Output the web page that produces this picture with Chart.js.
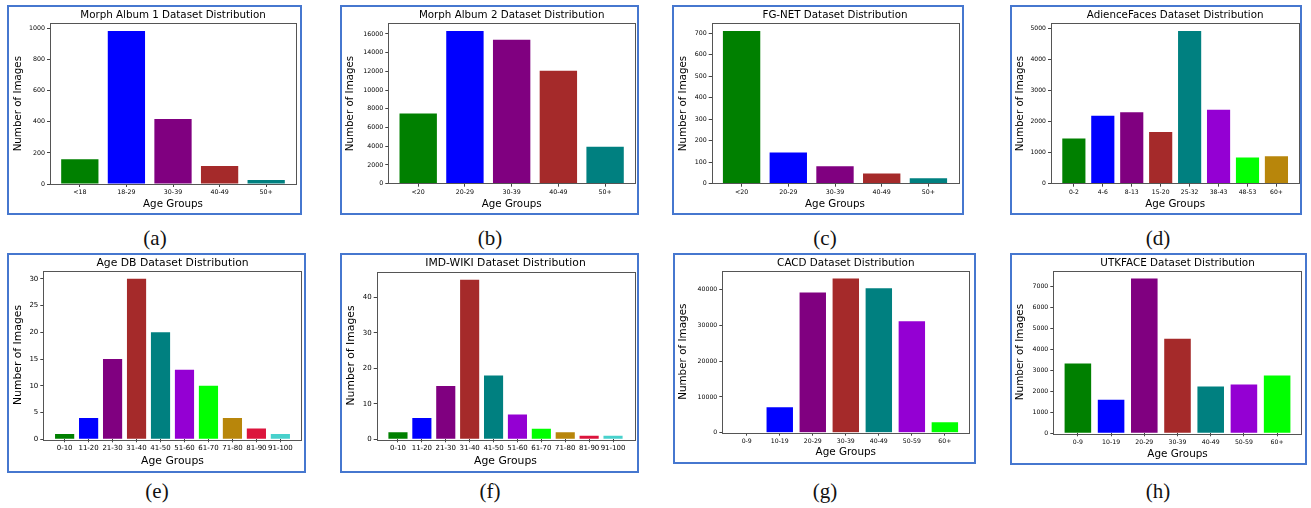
<!DOCTYPE html>
<html lang="en">
<head>
  <meta charset="UTF-8">
  <title>Dataset age distributions</title>
  <script src="https://cdn.jsdelivr.net/npm/chart.js"></script>
  <style>
    body { margin: 0; background: #fff; width: 1311px; height: 508px; position: relative; overflow: hidden; }
    .box { position: absolute; box-sizing: border-box; border: 2px solid #4677cf; }
    .box canvas { position: absolute; left: 0; top: 0; }
    .cap { position: absolute; font-family: "Liberation Serif", "DejaVu Serif", serif; font-size: 21px; color: #111; transform: translate(-50%, -50%); }
  </style>
</head>
<body>
  <script>
    // data
    const catsMorph1 = ['<18', '18-29', '30-39', '40-49', '50+'];
    const valsMorph1 = [160, 985, 418, 116, 26];
    const ticksMorph1 = [0, 200, 400, 600, 800, 1000];

    const catsMorph2 = ['<20', '20-29', '30-39', '40-49', '50+'];
    const valsMorph2 = [7500, 16320, 15390, 12070, 3960];
    const ticksMorph2 = [0, 2000, 4000, 6000, 8000, 10000, 12000, 14000, 16000];

    const catsFgnet = ['<20', '20-29', '30-39', '40-49', '50+'];
    const valsFgnet = [711, 145, 81, 48, 25];
    const ticksFgnet = [0, 100, 200, 300, 400, 500, 600, 700];

    const catsAdience = ['0-2', '4-6', '8-13', '15-20', '25-32', '38-43', '48-53', '60+'];
    const valsAdience = [1452, 2183, 2301, 1667, 4914, 2376, 839, 882];
    const ticksAdience = [0, 1000, 2000, 3000, 4000, 5000];

    const catsDecades = ['0-10', '11-20', '21-30', '31-40', '41-50', '51-60', '61-70', '71-80', '81-90', '91-100'];
    const valsAgeDb = [1, 4, 15, 30, 20, 13, 10, 4, 2, 1];
    const ticksAgeDb = [0, 5, 10, 15, 20, 25, 30];

    const valsImdb = [2, 6, 15, 45, 18, 7, 3, 2, 1, 1];
    const ticksImdb = [0, 10, 20, 30, 40];

    const catsTens = ['0-9', '10-19', '20-29', '30-39', '40-49', '50-59', '60+'];
    const valsCacd = [0, 7140, 39250, 43190, 40470, 31170, 2910];
    const ticksCacd = [0, 10000, 20000, 30000, 40000];

    const valsUtk = [3330, 1600, 7380, 4500, 2230, 2320, 2750];
    const ticksUtk = [0, 1000, 2000, 3000, 4000, 5000, 6000, 7000];

    const barColors = ['#008000', '#0000ff', '#800080', '#a52a2a', '#008080', '#9400d3', '#00ff00', '#b8860b', '#dc143c', '#48d1cc'];

    const panels = [
      { title: 'Morph Album 1 Dataset Distribution', cats: catsMorph1, vals: valsMorph1, ticks: ticksMorph1, cap: '(a)' },
      { title: 'Morph Album 2 Dataset Distribution', cats: catsMorph2, vals: valsMorph2, ticks: ticksMorph2, cap: '(b)' },
      { title: 'FG-NET Dataset Distribution', cats: catsFgnet, vals: valsFgnet, ticks: ticksFgnet, cap: '(c)' },
      { title: 'AdienceFaces Dataset Distribution', cats: catsAdience, vals: valsAdience, ticks: ticksAdience, cap: '(d)' },
      { title: 'Age DB Dataset Distribution', cats: catsDecades, vals: valsAgeDb, ticks: ticksAgeDb, cap: '(e)' },
      { title: 'IMD-WIKI Dataset Distribution', cats: catsDecades, vals: valsImdb, ticks: ticksImdb, cap: '(f)' },
      { title: 'CACD Dataset Distribution', cats: catsTens, vals: valsCacd, ticks: ticksCacd, cap: '(g)' },
      { title: 'UTKFACE Dataset Distribution', cats: catsTens, vals: valsUtk, ticks: ticksUtk, cap: '(h)' }
    ];

    // page geometry: box [l,t,r,b], plot area [l,t,r,b], title centre y, y-title centre x,
    // x-title centre y, caption centre, font sizes [text, ticks]
    const geom = [
      { box: [7, 5, 302, 215], plot: [50, 23.3, 296, 184], titleY: 15, yTitleX: 18.3, xTitleY: 204, cap: [155, 238], fs: [10.3, 6.3] },
      { box: [340, 5, 639, 215], plot: [388.3, 23.3, 635, 183.7], titleY: 15, yTitleX: 350.7, xTitleY: 204, cap: [490, 238], fs: [10.3, 6.3] },
      { box: [672, 5, 964, 215], plot: [711.7, 23.3, 958.3, 183.7], titleY: 15, yTitleX: 683.3, xTitleY: 204, cap: [825, 238], fs: [10.3, 6.3] },
      { box: [1010, 5, 1302, 215], plot: [1051, 23.3, 1299.3, 183.7], titleY: 15, yTitleX: 1020, xTitleY: 204, cap: [1158, 238], fs: [10.3, 6.1] },
      { box: [7, 253, 306, 473], plot: [43.3, 270.7, 301.7, 439.3], titleY: 263.3, yTitleX: 18.3, xTitleY: 460.7, cap: [157, 491], fs: [10.8, 7] },
      { box: [340, 253, 639, 473], plot: [376.7, 271.7, 634.3, 439.3], titleY: 263.3, yTitleX: 350.7, xTitleY: 460.7, cap: [490, 491], fs: [10.8, 7] },
      { box: [673, 253, 976, 464], plot: [722.3, 270.7, 969.3, 432.7], titleY: 263.3, yTitleX: 683.3, xTitleY: 452.7, cap: [825, 491], fs: [10.4, 6.2] },
      { box: [1010, 253, 1307, 465], plot: [1053.3, 270.7, 1301.7, 433.3], titleY: 263.3, yTitleX: 1020, xTitleY: 454, cap: [1158, 491], fs: [10.4, 6.2] }
    ];

    // matplotlib-like frame around the axes
    const framePlugin = {
      id: 'frame',
      afterDatasetsDraw(chart) {
        const a = chart.chartArea;
        const c = chart.ctx;
        c.save();
        c.strokeStyle = '#555';
        c.lineWidth = 1;
        c.strokeRect(Math.round(a.left) + 0.5, Math.round(a.top) + 0.5, Math.round(a.right - a.left), Math.round(a.bottom - a.top));
        c.restore();
      }
    };

    const FONT = "'DejaVu Sans', sans-serif";

    panels.forEach((p, k) => {
      const g = geom[k];
      const div = document.createElement('div');
      div.className = 'box';
      div.style.left = g.box[0] + 'px';
      div.style.top = g.box[1] + 'px';
      div.style.width = (g.box[2] - g.box[0]) + 'px';
      div.style.height = (g.box[3] - g.box[1]) + 'px';
      document.body.appendChild(div);

      const cl = g.box[0] + 2, ct = g.box[1] + 2;
      const cw = g.box[2] - g.box[0] - 4, ch = g.box[3] - g.box[1] - 4;
      const canvas = document.createElement('canvas');
      canvas.width = cw;
      canvas.height = ch;
      canvas.style.width = cw + 'px';
      canvas.style.height = ch + 'px';
      div.appendChild(canvas);

      const cap = document.createElement('div');
      cap.className = 'cap';
      cap.textContent = p.cap;
      cap.style.left = g.cap[0] + 'px';
      cap.style.top = g.cap[1] + 'px';
      document.body.appendChild(cap);

      const n = p.cats.length;
      const margin = 0.05 * (n - 1 + 0.8);
      const lh = g.fs[0] * 1.2;
      const titlePadTop = g.titleY - ct - lh / 2;
      const titlePadBottom = (g.plot[1] - ct) - titlePadTop - lh;
      const textFont = { family: FONT, size: g.fs[0], weight: 'normal', lineHeight: 1.2 };
      const tickFont = { family: FONT, size: g.fs[1] };

      new Chart(canvas.getContext('2d'), {
        type: 'bar',
        data: {
          datasets: [{
            data: p.vals.map((v, i) => ({ x: i, y: v })),
            backgroundColor: barColors.slice(0, n),
            borderWidth: 0,
            categoryPercentage: 1,
            barPercentage: 0.8
          }]
        },
        options: {
          responsive: false,
          animation: false,
          devicePixelRatio: 1,
          layout: { padding: { left: 0, top: 0, bottom: 0, right: (cl + cw) - g.plot[2] } },
          plugins: {
            legend: { display: false },
            tooltip: { enabled: false },
            title: {
              display: true,
              text: p.title,
              fullSize: false,
              color: '#000',
              font: textFont,
              padding: { top: titlePadTop, bottom: titlePadBottom }
            }
          },
          scales: {
            x: {
              type: 'linear',
              offset: false,
              min: -0.4 - margin,
              max: n - 1 + 0.4 + margin,
              afterBuildTicks: s => { s.ticks = p.cats.map((c, i) => ({ value: i })); },
              afterFit: s => { s.height = (ct + ch) - g.plot[3]; },
              ticks: {
                callback: v => p.cats[v],
                autoSkip: false, maxRotation: 0, minRotation: 0,
                color: '#000', padding: 2,
                font: tickFont
              },
              grid: { display: true, offset: false, drawOnChartArea: false, drawTicks: true, tickLength: 3, color: '#444' },
              border: { display: false },
              title: {
                display: true, text: 'Age Groups', color: '#000',
                font: textFont,
                padding: { top: 0, bottom: (ct + ch) - g.xTitleY - lh / 2 }
              }
            },
            y: {
              min: 0,
              max: Math.max(...p.vals) * 1.05,
              afterBuildTicks: s => { s.ticks = p.ticks.map(v => ({ value: v })); },
              afterFit: s => { s.width = g.plot[0] - cl; },
              ticks: {
                callback: v => String(v),
                color: '#000', padding: 2,
                font: tickFont
              },
              grid: { display: true, drawOnChartArea: false, drawTicks: true, tickLength: 3, color: '#444' },
              border: { display: false },
              title: {
                display: true, text: 'Number of Images', color: '#000',
                font: textFont,
                padding: { top: g.yTitleX - cl - lh / 2, bottom: 0 }
              }
            }
          }
        },
        plugins: [framePlugin]
      });
    });
  </script>
</body>
</html>
